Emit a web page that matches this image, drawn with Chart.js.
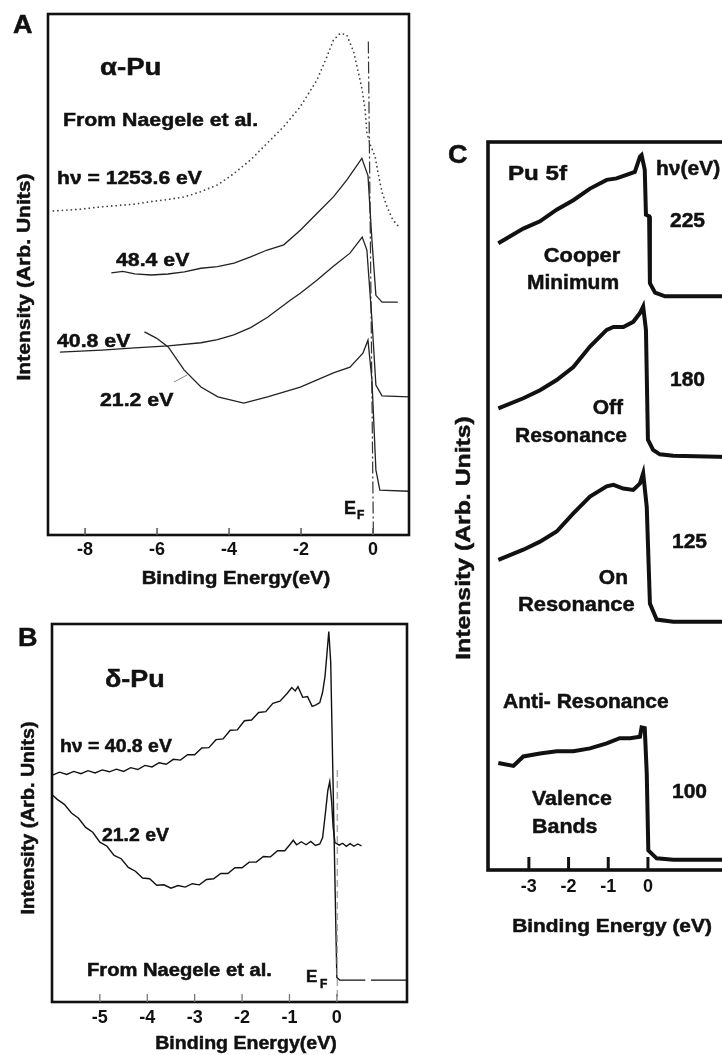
<!DOCTYPE html>
<html>
<head>
<meta charset="utf-8">
<script src="https://cdn.jsdelivr.net/npm/chart.js@4.4.0/dist/chart.umd.min.js"></script>
<style>
  html, body { margin: 0; padding: 0; background: #fff; overflow: hidden; width: 722px; height: 1055px; }
  canvas { position: absolute; }
</style>
</head>
<body>
<canvas id="chartA" width="450" height="600" style="left:0;top:0;width:450px;height:600px"></canvas>
<canvas id="chartB" width="450" height="450" style="left:0;top:605px;width:450px;height:450px"></canvas>
<canvas id="chartC" width="320" height="860" style="left:440px;top:100px;width:320px;height:860px"></canvas>
<script>
// panel A : alpha-Pu
const aTicks = [-8, -6, -4, -2, 0];
const a1253X = [-8.88, -8.19, -7.54, -6.62, -6.16, -5.70, -5.24, -4.78, -4.32, -3.86, -3.40, -2.94, -2.48, -2.02, -1.56, -1.28, -1.10, -0.91, -0.73, -0.54, -0.41, -0.30, -0.22, -0.17, -0.08, 0.06, 0.14, 0.25, 0.39, 0.55, 0.75];
const a1253Y = [62.2, 62.5, 63.0, 63.5, 64.0, 64.4, 64.9, 65.9, 67.2, 69.4, 72.0, 75.2, 78.4, 82.2, 87.3, 91.8, 95.0, 96.3, 96.0, 92.8, 88.9, 85.4, 81.6, 77.2, 75.0, 72.6, 69.5, 65.8, 63.0, 60.5, 58.9];
const a484X = [-7.27, -6.95, -6.62, -6.16, -5.70, -5.24, -4.78, -4.32, -3.86, -3.40, -2.94, -2.48, -2.02, -1.56, -1.10, -0.73, -0.31, -0.14, -0.03, 0.08, 0.25, 0.69];
const a484Y = [50.3, 50.6, 50.1, 49.9, 50.1, 50.5, 51.2, 51.5, 52.2, 53.4, 54.7, 55.7, 58.5, 61.7, 64.9, 68.1, 72.3, 69.0, 56.6, 46.0, 44.7, 44.7];
const a408X = [-8.70, -7.54, -6.62, -5.69, -4.78, -4.32, -3.87, -3.40, -2.93, -2.29, -2.02, -1.56, -1.10, -0.64, -0.30, -0.17, -0.03, 0.08, 0.25, 1.0];
const a408Y = [35.1, 35.5, 35.9, 36.3, 36.9, 37.5, 38.4, 39.8, 41.8, 45.1, 46.4, 48.9, 51.6, 54.1, 57.2, 54.7, 41.3, 28.8, 26.7, 26.5];
const a212X = [-6.35, -6.02, -5.69, -5.25, -4.78, -4.31, -3.59, -2.93, -2.02, -1.10, -0.64, -0.28, -0.14, -0.03, 0.08, 0.19, 1.0];
const a212Y = [39.0, 37.8, 36.1, 31.7, 28.4, 26.5, 25.3, 26.5, 28.4, 31.1, 32.2, 34.9, 37.4, 29.8, 12.5, 8.6, 8.4];
const aFermiX = [-0.13, 0.01];
const aFermiY = [94.7, 0.4];

// panel B : delta-Pu
const bTicks = [-5, -4, -3, -2, -1, 0];
const b408X = [-6.00, -5.85, -5.70, -5.55, -5.40, -5.25, -5.10, -4.95, -4.80, -4.65, -4.50, -4.35, -4.20, -4.05, -3.90, -3.75, -3.60, -3.45, -3.30, -3.15, -3.00, -2.85, -2.70, -2.55, -2.40, -2.25, -2.10, -1.95, -1.80, -1.65, -1.50, -1.35, -1.20, -1.05, -0.95, -0.88, -0.82, -0.72, -0.62, -0.52, -0.44, -0.36, -0.30, -0.25, -0.21, -0.17, -0.13, 0.00, 0.06, 0.60, 0.64, 0.72, 1.48];
const b408Y = [60.0, 60.8, 60.2, 61.0, 60.4, 61.2, 60.6, 61.4, 60.9, 61.6, 61.0, 62.0, 61.5, 62.6, 62.2, 63.3, 62.9, 64.2, 64.0, 65.4, 65.4, 67.2, 67.3, 69.4, 69.6, 71.9, 72.0, 74.4, 74.6, 76.6, 76.8, 79.0, 79.6, 81.6, 83.2, 82.3, 83.4, 80.6, 80.8, 78.2, 78.6, 79.2, 82.0, 86.1, 92.0, 98.0, 90.0, 6.5, 5.8, 5.8, null, 5.8, 5.8];
const b212X = [-6.04, -5.90, -5.75, -5.60, -5.45, -5.30, -5.15, -5.00, -4.85, -4.70, -4.55, -4.40, -4.25, -4.10, -3.95, -3.80, -3.65, -3.50, -3.35, -3.20, -3.05, -2.90, -2.75, -2.60, -2.45, -2.30, -2.15, -2.00, -1.85, -1.70, -1.55, -1.40, -1.25, -1.10, -0.98, -0.92, -0.85, -0.75, -0.65, -0.55, -0.45, -0.36, -0.30, -0.25, -0.19, -0.15, -0.11, -0.08, -0.04, 0.05, 0.12, 0.20, 0.28, 0.36, 0.44, 0.52];
const b212Y = [55.2, 53.6, 52.3, 50.0, 48.6, 46.2, 44.9, 42.3, 41.2, 38.8, 37.9, 35.6, 34.6, 32.8, 32.6, 30.9, 31.0, 30.1, 30.8, 30.4, 31.3, 31.0, 32.4, 32.6, 34.0, 34.0, 35.5, 35.5, 37.0, 37.0, 38.5, 38.4, 40.0, 40.0, 41.8, 42.8, 41.6, 42.4, 41.6, 42.5, 41.4, 41.8, 43.5, 49.0, 56.0, 58.3, 53.0, 46.4, 42.2, 41.5, 42.0, 41.2, 41.9, 41.2, 41.8, 41.3];
const bFermiX = [0.01, 0.01];
const bFermiY = [61.4, 0.5];

// panel C : Pu 5f, photon energies 225 / 180 / 125 / 100 eV
const cTicks = [-3, -2, -1, 0];
const c225X = [-3.77, -3.14, -2.72, -2.30, -1.88, -1.46, -1.04, -0.79, -0.54, -0.33, -0.20, -0.16, -0.08, -0.05, 0.03, 0.05, 0.18, 0.43, 2.32];
const c225Y = [86.1, 88.1, 89.1, 90.7, 92.0, 93.6, 94.8, 95.0, 95.5, 95.9, 98.0, 98.2, 96.2, 90.0, 89.8, 80.6, 79.3, 78.8, 78.8];
const c180X = [-3.77, -3.14, -2.72, -2.30, -1.88, -1.46, -1.04, -0.87, -0.62, -0.37, -0.20, -0.12, -0.05, 0.00, 0.13, 0.30, 0.64, 2.32];
const c180Y = [63.4, 64.8, 65.9, 67.3, 69.1, 71.9, 74.2, 74.6, 74.6, 75.3, 76.5, 77.4, 74.2, 59.1, 57.7, 57.1, 56.9, 56.7];
const c125X = [-3.77, -3.14, -2.72, -2.30, -1.88, -1.46, -1.04, -0.87, -0.62, -0.37, -0.20, -0.12, -0.03, 0.05, 0.22, 0.64, 2.32];
const c125Y = [42.6, 44.0, 45.1, 46.5, 49.0, 51.3, 52.7, 52.9, 52.4, 52.2, 53.1, 54.5, 49.9, 36.6, 34.4, 34.1, 34.1];
const c100X = [-3.77, -3.39, -3.14, -2.72, -2.30, -1.88, -1.46, -1.04, -0.71, -0.45, -0.20, -0.16, -0.08, -0.03, 0.01, 0.22, 0.64, 2.32];
const c100Y = [14.7, 14.3, 15.6, 16.0, 16.3, 16.3, 16.7, 17.4, 18.1, 18.1, 18.3, 19.6, 19.5, 13.3, 2.7, 1.6, 1.4, 1.4];

const FONT = '"Liberation Sans", Arial, Helvetica, sans-serif';
Chart.defaults.font.family = FONT;

function pts(xs, ys) {
  return xs.map(function (x, i) { return { x: x, y: ys[i] }; });
}

function line(xs, ys, width, color, dash) {
  return {
    data: pts(xs, ys), showLine: true, pointRadius: 0, borderWidth: width,
    borderColor: color, borderDash: dash || [], tension: 0, spanGaps: false,
    borderCapStyle: dash && dash[0] === 0 ? 'round' : 'butt'
  };
}

// y is the middle of the capital letters, page coordinates
function txt(ctx, s, x, y, o) {
  o = o || {};
  let size = o.size || 19;
  ctx.save();
  ctx.font = 'bold ' + size + 'px ' + FONT;
  ctx.fillStyle = '#111';
  ctx.strokeStyle = '#111';
  ctx.lineWidth = 0.5;
  ctx.textAlign = o.align || 'left';
  ctx.textBaseline = 'alphabetic';
  ctx.translate(x, y);
  if (o.rot) ctx.rotate(o.rot);
  ctx.scale(o.sx || 1, 1);
  let by = o.rot ? size * 0.33 : size * 0.36;
  ctx.fillText(s, 0, by);
  ctx.strokeText(s, 0, by);
  ctx.restore();
}

function drawA(ctx) {
  txt(ctx, 'A', 13, 24, { size: 25, sx: 1.08 });
  txt(ctx, 'α-Pu', 100, 66, { size: 24, sx: 1.15 });
  txt(ctx, 'From Naegele et al.', 63, 119, { sx: 1.12 });
  txt(ctx, 'hν = 1253.6 eV', 57, 177, { sx: 1.11 });
  txt(ctx, '48.4 eV', 116, 259, { sx: 1.12 });
  txt(ctx, '40.8 eV', 57, 340, { sx: 1.12 });
  txt(ctx, '21.2 eV', 100, 399, { sx: 1.12 });
  ctx.strokeStyle = '#888'; ctx.lineWidth = 1;
  ctx.beginPath(); ctx.moveTo(174, 382); ctx.lineTo(187, 375); ctx.stroke();
  txt(ctx, 'E', 344, 508, { size: 18 });
  txt(ctx, 'F', 357, 515, { size: 12 });
  txt(ctx, 'Binding Energy(eV)', 236, 577, { align: 'center', sx: 1.07 });
  txt(ctx, 'Intensity (Arb. Units)', 24, 277, { align: 'center', size: 18, sx: 1.17, rot: -Math.PI / 2 });
}

function drawB(ctx) {
  txt(ctx, 'B', 18, 637, { size: 25, sx: 1.08 });
  txt(ctx, 'δ-Pu', 105, 678, { size: 24, sx: 1.12 });
  txt(ctx, 'hν = 40.8 eV', 60, 746, { size: 18, sx: 1.08 });
  txt(ctx, '21.2 eV', 102, 835, { size: 18, sx: 1.08 });
  txt(ctx, 'From Naegele et al.', 87, 970, { size: 18, sx: 1.12 });
  txt(ctx, 'E', 306, 976, { size: 17 });
  txt(ctx, 'F', 320, 984, { size: 12 });
  txt(ctx, 'Binding Energy(eV)', 246, 1042, { align: 'center', sx: 1.03 });
  txt(ctx, 'Intensity (Arb. Units)', 28, 818, { align: 'center', size: 18, sx: 1.09, rot: -Math.PI / 2 });
}

function drawC(ctx) {
  txt(ctx, 'C', 448, 154, { size: 25, sx: 1.08 });
  txt(ctx, 'Pu 5f', 508, 172, { size: 21, sx: 1.15 });
  txt(ctx, 'hν(eV)', 656, 168, { size: 20, sx: 1.05 });
  txt(ctx, '225', 670, 219, { size: 21 });
  txt(ctx, 'Cooper', 582, 254, { size: 21, sx: 1.04, align: 'center' });
  txt(ctx, 'Minimum', 573, 281, { size: 21, sx: 1.0, align: 'center' });
  txt(ctx, '180', 670, 378, { size: 21 });
  txt(ctx, 'Off', 623, 406, { size: 21, align: 'right' });
  txt(ctx, 'Resonance', 515, 434, { size: 21 });
  txt(ctx, '125', 672, 540, { size: 21 });
  txt(ctx, 'On', 628, 576, { size: 21, align: 'right' });
  txt(ctx, 'Resonance', 518, 603, { size: 21, sx: 1.04 });
  txt(ctx, 'Anti- Resonance', 503, 700, { size: 21 });
  txt(ctx, '100', 672, 790, { size: 21 });
  txt(ctx, 'Valence', 532, 797, { size: 21, sx: 1.02 });
  txt(ctx, 'Bands', 532, 825, { size: 21, sx: 1.02 });
  txt(ctx, 'Binding Energy (eV)', 612, 925, { align: 'center', sx: 1.1 });
  txt(ctx, 'Intensity (Arb. Units)', 463, 538, { align: 'center', size: 21, sx: 1.18, rot: -Math.PI / 2 });
}

const panels = {
  chartA: { dx: 0, dy: 0, frame: 2.6, tickLen: 7, tickW: 1.5, tickColor: '#555', marks: aTicks, draw: drawA },
  chartB: { dx: 0, dy: 605, frame: 2.6, tickLen: 8, tickW: 1.3, tickColor: '#777', marks: bTicks, draw: drawB },
  chartC: { dx: 440, dy: 100, frame: 3.6, tickLen: 13, tickW: 3, tickColor: '#111', marks: cTicks, draw: drawC }
};

const panelPlugin = {
  id: 'panelDeco',
  afterDatasetsDraw(chart) {
    let p = panels[chart.canvas.id];
    let ctx = chart.ctx, a = chart.chartArea, sx = chart.scales.x;
    ctx.save();
    ctx.strokeStyle = '#111';
    ctx.lineWidth = p.frame;
    ctx.strokeRect(a.left, a.top, a.right - a.left, a.bottom - a.top);
    ctx.strokeStyle = p.tickColor;
    ctx.lineWidth = p.tickW;
    p.marks.forEach(function (v) {
      let px = sx.getPixelForValue(v);
      ctx.beginPath();
      ctx.moveTo(px, a.bottom);
      ctx.lineTo(px, a.bottom - p.tickLen);
      ctx.stroke();
    });
    ctx.translate(-p.dx, -p.dy);
    p.draw(ctx);
    ctx.restore();
  }
};

function makeChart(id, datasets, c) {
  return new Chart(document.getElementById(id), {
    type: 'scatter',
    data: { datasets: datasets },
    options: {
      responsive: false,
      animation: false,
      devicePixelRatio: 1,
      layout: { padding: c.pad },
      plugins: { legend: { display: false }, tooltip: { enabled: false } },
      scales: {
        x: {
          type: 'linear', min: c.xmin, max: c.xmax,
          afterFit: function (s) { s.height = c.xh; },
          afterBuildTicks: function (s) { s.ticks = c.ticks.map(function (v) { return { value: v }; }); },
          grid: { display: false, drawTicks: false },
          border: { display: false },
          ticks: { color: '#111', padding: c.tickPad, font: { size: 18, weight: 'bold' } }
        },
        y: { display: false, min: 0, max: 100 }
      }
    },
    plugins: [panelPlugin]
  });
}

makeChart('chartA', [
  line(a1253X, a1253Y, 1.8, '#444', [0, 4.5]),
  line(a484X, a484Y, 1.3, '#222'),
  line(a408X, a408Y, 1.3, '#222'),
  line(a212X, a212Y, 1.3, '#222'),
  line(aFermiX, aFermiY, 1.2, '#333', [12, 3, 2, 3])
], { pad: { left: 48, top: 14, right: 41, bottom: 0 }, xmin: -9.03, xmax: 1.0, xh: 65, tickPad: 4, ticks: aTicks });

makeChart('chartB', [
  line(bFermiX, bFermiY, 1.5, '#aaa', [7, 4]),
  line(b408X, b408Y, 1.4, '#111'),
  line(b212X, b212Y, 1.4, '#111')
], { pad: { left: 52, top: 19, right: 43, bottom: 0 }, xmin: -6.01, xmax: 1.48, xh: 53, tickPad: 5, ticks: bTicks });

makeChart('chartC', [
  line(c225X, c225Y, 4, '#111'),
  line(c180X, c180Y, 4, '#111'),
  line(c125X, c125Y, 4, '#111'),
  line(c100X, c100Y, 4, '#111')
], { pad: { left: 48, top: 42, right: 20, bottom: 0 }, xmin: -4.03, xmax: 2.32, xh: 90, tickPad: 6, ticks: cTicks });
</script>
</body>
</html>
